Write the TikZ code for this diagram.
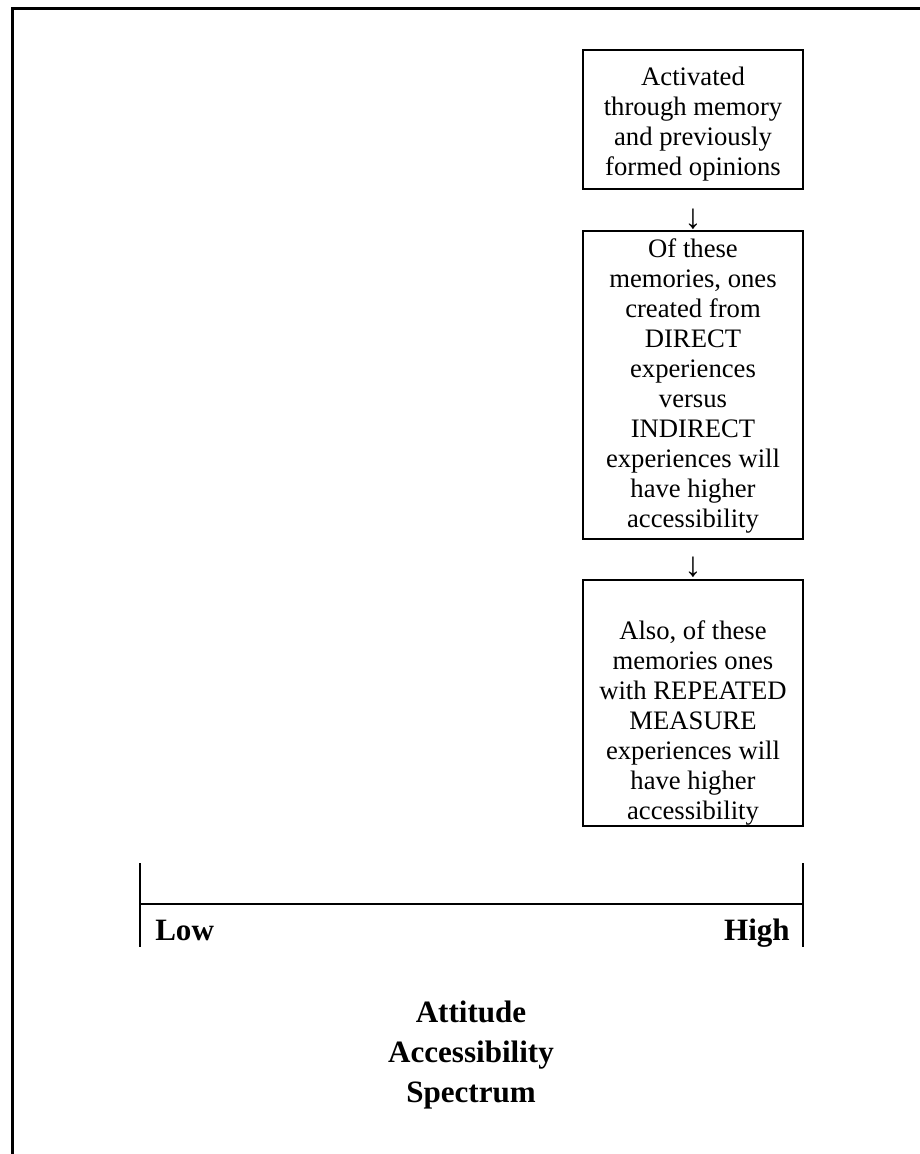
\documentclass[tikz,border=0pt]{standalone}
\usepackage{fontspec}
\setmainfont{Liberation Serif}
\tikzset{
  frameline/.style={line width=2.25pt, line cap=rect},
  boxframe/.style={draw, line width=1.3pt, minimum width=220*0.75pt, inner sep=0pt},
  boxtext/.style={align=center, inner sep=0pt, font=\fontsize{20}{22.5}\selectfont},
  arrowglyph/.style={inner sep=0pt, font=\fontsize{26}{26}\selectfont},
  scaleline/.style={line width=1.3pt},
  boldlabel/.style={inner sep=0pt, font=\fontsize{23.3}{30}\selectfont\bfseries},
}
\begin{document}
\begin{tikzpicture}[x=0.75pt,y=-0.75pt]
\useasboundingbox (0,0) rectangle (920,1154);
% outer frame (top and left only)
\coordinate (fTR) at (920,8.5);
\coordinate (fTL) at (12,8.5);
\coordinate (fBL) at (12,1154);
\draw[frameline] (fTR) -- (fTL) -- (fBL);
% boxes
\node[boxframe, minimum height=139*0.75pt] (b1) at (693,119.5) {};
\node[boxtext] (t1) at (693,124) {Activated\\through memory\\and previously\\formed opinions};
\node[arrowglyph] (a1) at (693,219.5) {↓};
\node[boxframe, minimum height=308*0.75pt] (b2) at (693,385) {};
\node[boxtext] (t2) at (693,386) {Of these\\memories, ones\\created from\\DIRECT\\experiences\\versus\\INDIRECT\\experiences will\\have higher\\accessibility};
\node[arrowglyph] (a2) at (693,567.5) {↓};
\node[boxframe, minimum height=246*0.75pt] (b3) at (693,703) {};
\node[boxtext] (t3) at (693,723) {Also, of these\\memories ones\\with REPEATED\\MEASURE\\experiences will\\have higher\\accessibility};
% spectrum scale
\coordinate (lTop) at (140,863);
\coordinate (lMid) at (140,904);
\coordinate (lBot) at (140,947);
\coordinate (rTop) at (803,863);
\coordinate (rMid) at (803,904);
\coordinate (rBot) at (803,947);
\draw[scaleline] (lTop) -- (lBot);
\draw[scaleline] (rTop) -- (rBot);
\draw[scaleline] (lMid) -- (rMid);
\node[boldlabel, anchor=base west] (low) at (155,940) {Low};
\node[boldlabel, anchor=base east] (high) at (790,940) {High};
\node[boldlabel, align=center] (title) at (471,1055) {Attitude\\Accessibility\\Spectrum};
\end{tikzpicture}
\end{document}
